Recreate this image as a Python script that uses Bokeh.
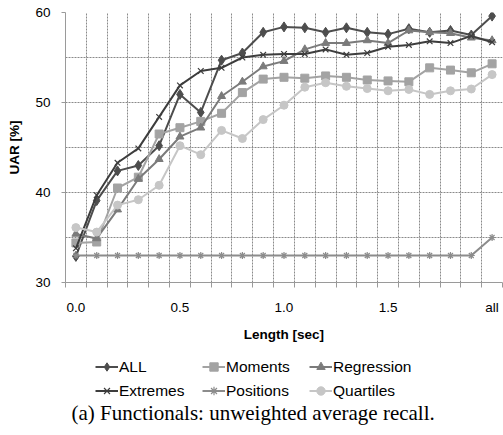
from bokeh.plotting import figure
from bokeh.models import (FixedTicker, Legend, LegendItem, Label, Range1d)
from bokeh.layouts import column
from bokeh.embed import file_html
from bokeh.resources import INLINE

categories = ["0.0", "0.1", "0.2", "0.3", "0.4", "0.5", "0.6", "0.7", "0.8", "0.9",
              "1.0", "1.1", "1.2", "1.3", "1.4", "1.5", "1.6", "1.7", "1.8", "1.9", "all"]
labelled = ["0.0", "0.5", "1.0", "1.5", "all"]

all_uar = [32.9, 39.1, 42.4, 43.0, 45.2, 50.9, 48.9, 54.7, 55.5, 57.8,
           58.4, 58.3, 57.8, 58.3, 57.8, 57.6, 58.2, 57.8, 58.0, 57.5, 59.6]
moments = [34.4, 34.5, 40.5, 41.7, 46.5, 47.2, 47.9, 48.8, 51.1, 52.6,
           52.8, 52.7, 52.95, 52.8, 52.5, 52.4, 52.3, 53.85, 53.6, 53.3, 54.3]
regression = [35.4, 34.9, 38.1, 41.5, 43.7, 46.2, 47.2, 50.7, 52.3, 54.0,
              54.6, 55.9, 56.6, 56.6, 56.9, 56.6, 58.0, 57.8, 57.7, 57.2, 56.9]
extremes = [33.8, 39.7, 43.3, 44.9, 48.4, 51.9, 53.5, 53.85, 55.0, 55.3,
            55.4, 55.4, 55.9, 55.3, 55.5, 56.2, 56.4, 56.8, 56.6, 57.4, 56.7]
positions = [33.0, 33.0, 33.0, 33.0, 33.0, 33.0, 33.0, 33.0, 33.0, 33.0,
             33.0, 33.0, 33.0, 33.0, 33.0, 33.0, 33.0, 33.0, 33.0, 33.0, 35.0]
quartiles = [36.1, 35.6, 38.6, 39.2, 40.8, 45.2, 44.2, 46.9, 46.0, 48.1,
             49.7, 51.7, 52.2, 51.8, 51.55, 51.3, 51.45, 50.9, 51.3, 51.5, 53.1]

y_ticks = [30, 40, 50, 60]
y_grid = [35, 40, 45, 50, 55, 60]
caption_text = "(a) Functionals: unweighted average recall."

n = len(categories)
xs = list(range(n))
SANS = "Liberation Sans"

p = figure(width=503, height=345, output_backend="svg", toolbar_location=None,
           x_range=Range1d(-0.5, n - 0.5), y_range=Range1d(30, 60),
           min_border_left=65, min_border_right=1, min_border_top=12,
           min_border_bottom=63)
p.outline_line_color = None
p.background_fill_color = "white"
p.border_fill_color = "white"

# x axis
xa = p.xaxis[0]
xa.ticker = FixedTicker(ticks=[categories.index(c) for c in labelled],
                        minor_ticks=[i - 0.5 for i in range(n + 1)])
xa.major_label_overrides = {categories.index(c): c for c in labelled}
xa.major_tick_line_color = None
xa.major_tick_in = 0
xa.major_tick_out = 5
xa.minor_tick_in = 0
xa.minor_tick_out = 5
xa.minor_tick_line_color = "#9a9a9a"
xa.axis_line_color = "#9a9a9a"
xa.major_label_standoff = 12
xa.major_label_text_font = SANS
xa.major_label_text_font_size = "13.5px"
xa.major_label_text_color = "#000000"
xa.axis_label = "Length [sec]"
xa.axis_label_text_font = SANS
xa.axis_label_text_font_style = "bold"
xa.axis_label_text_font_size = "13.5px"
xa.axis_label_text_color = "#000000"
xa.axis_label_standoff = 9

# y axis
ya = p.yaxis[0]
ya.ticker = FixedTicker(ticks=y_ticks)
ya.minor_tick_line_color = None
ya.major_tick_in = 0
ya.major_tick_out = 4
ya.major_tick_line_color = "#9a9a9a"
ya.axis_line_color = "#9a9a9a"
ya.major_label_standoff = 11
ya.major_label_text_font = SANS
ya.major_label_text_font_size = "13.5px"
ya.major_label_text_color = "#000000"
ya.axis_label = "UAR [%]"
ya.axis_label_text_font = SANS
ya.axis_label_text_font_style = "bold"
ya.axis_label_text_font_size = "13.5px"
ya.axis_label_text_color = "#000000"
ya.axis_label_standoff = 10

# grids
p.xgrid.ticker = FixedTicker(ticks=[i - 0.5 for i in range(1, n + 1)])
p.ygrid.ticker = FixedTicker(ticks=y_grid)
for g in (p.xgrid[0], p.ygrid[0]):
    g.grid_line_color = "#8a8a8a"
    g.grid_line_dash = "2 1"
    g.grid_line_width = 1

series = [
    ("ALL", all_uar, "#4d4d4d", "diamond", 10),
    ("Moments", moments, "#a3a3a3", "square", 8),
    ("Regression", regression, "#7b7b7b", "triangle", 8),
    ("Extremes", extremes, "#3d3d3d", "x", 8),
    ("Positions", positions, "#8c8c8c", "asterisk", 7),
    ("Quartiles", quartiles, "#c6c6c6", "circle", 8),
]

for name, vals, color, marker, size in series:
    p.line(xs, vals, line_color=color, line_width=2)
    p.scatter(xs, vals, marker=marker, size=size, fill_color=color,
              line_color=color, line_width=1.2 if marker in ("x", "asterisk") else 1)

# lower panel: legend + caption (frame aligned with the chart's frame)
q = figure(width=503, height=90, output_backend="svg", toolbar_location=None,
           x_range=Range1d(-0.5, n - 0.5), y_range=Range1d(30, 60),
           x_axis_type=None, y_axis_type=None, min_border=0)
q.outline_line_color = None
q.background_fill_color = "white"
q.border_fill_color = "white"

items = []
for name, vals, color, marker, size in series:
    r1 = q.line(xs, vals, line_color=color, line_width=2, visible=False)
    r2 = q.scatter(xs, vals, marker=marker, size=size, fill_color=color,
                   line_color=color, visible=False,
                   line_width=1.2 if marker in ("x", "asterisk") else 1)
    items.append(LegendItem(label=name, renderers=[r1, r2]))

legend = Legend(items=items, orientation="horizontal", ncols=3,
                location=(30, 34), border_line_color=None,
                background_fill_alpha=0, margin=0, padding=0,
                inactive_fill_alpha=0,
                spacing=3, label_height=21, glyph_height=21, glyph_width=23,
                label_standoff=1, label_width=80, label_text_font=SANS,
                label_text_font_size="15.5px", label_text_color="#000000")
q.add_layout(legend, "center")

caption = Label(text=caption_text, x=6, y=23, x_units="screen", y_units="screen",
                text_baseline="middle", text_align="left",
                text_font="Liberation Serif", text_font_size="21px",
                text_color="#000000")
q.add_layout(caption)

layout = column(p, q, spacing=0)
open("out.html", "w").write(file_html(layout, INLINE))
